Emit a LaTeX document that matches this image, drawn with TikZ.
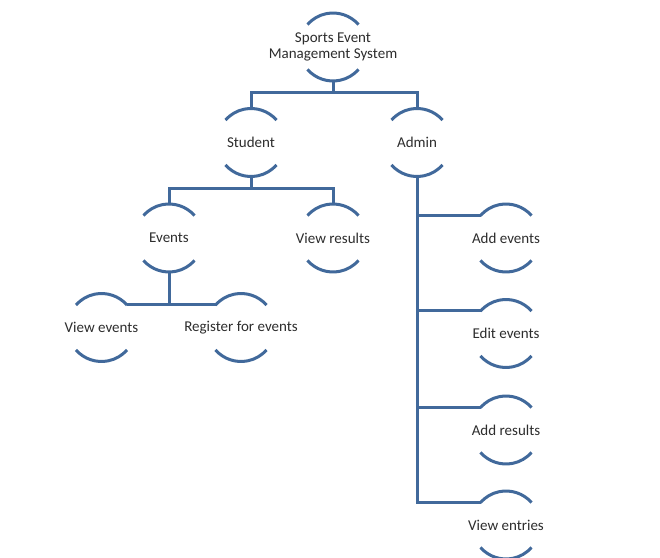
\documentclass[tikz,border=0pt]{standalone}
\usepackage{fontspec}
\setmainfont{Carlito}
\usetikzlibrary{calc}
\definecolor{lineblue}{RGB}{65,105,155}
\definecolor{txtgray}{RGB}{45,45,45}
\begin{document}
\begin{tikzpicture}[x=1pt,y=1pt,
  conn/.style={draw=lineblue,line width=3pt},
  arcline/.style={draw=lineblue,line width=3pt},
  lbl/.style={font=\fontsize{15}{16}\selectfont,text=txtgray,align=center,inner sep=0pt},
  arcs/.pic={
    \draw[arcline] (41.4:34) arc[start angle=41.4,end angle=138.6,radius=34];
    \draw[arcline] (221.4:34) arc[start angle=221.4,end angle=318.6,radius=34];
  }]
\useasboundingbox[fill=white] (0,0) rectangle (660,557);

% nodes
\node[lbl] (sys)  at (333,510)   {Sports Event\\Management System};
\node[lbl] (stu)  at (251,414.5) {Student};
\node[lbl] (adm)  at (417,414.5) {Admin};
\node[lbl] (evt)  at (169,319)   {Events};
\node[lbl] (vres) at (333,319)   {View results};
\node[lbl] (vev)  at (101.5,229.5) {View events};
\node[lbl] (reg)  at (241,229.5) {Register for events};
\node[lbl] (aev)  at (506,319)   {Add events};
\node[lbl] (eev)  at (506,223.5) {Edit events};
\node[lbl] (ares) at (506,127)   {Add results};
\node[lbl] (vent) at (506,32)    {View entries};

% arcs
\foreach \n in {sys,stu,adm,evt,vres,vev,reg,aev,eev,ares,vent}
  \pic at (\n) {arcs};

% connectors
\coordinate (j1) at (333,464);
\draw[conn] ($(sys)+(0,-34)$) -- (j1);
\draw[conn] ($(stu)+(0,34)$) |- (j1) -| ($(adm)+(0,34)$);

\coordinate (j2) at (251,368);
\draw[conn] ($(stu)+(0,-34)$) -- (j2);
\draw[conn] ($(evt)+(0,34)$) |- (j2) -| ($(vres)+(0,34)$);

\draw[conn] ($(evt)+(0,-34)$) -- ($(evt|-reg)+(0,22.5)$);
\draw[conn] ($(vev)+(25.5,22.5)$) -- ($(reg)+(-25.5,22.5)$);

\draw[conn] ($(adm)+(0,-34)$) |- ($(vent)+(-25.5,22.5)$);
\draw[conn] ($(adm|-aev)+(0,22.5)$) -- ($(aev)+(-25.5,22.5)$);
\draw[conn] ($(adm|-eev)+(0,22.5)$) -- ($(eev)+(-25.5,22.5)$);
\draw[conn] ($(adm|-ares)+(0,22.5)$) -- ($(ares)+(-25.5,22.5)$);
\end{tikzpicture}
\end{document}
